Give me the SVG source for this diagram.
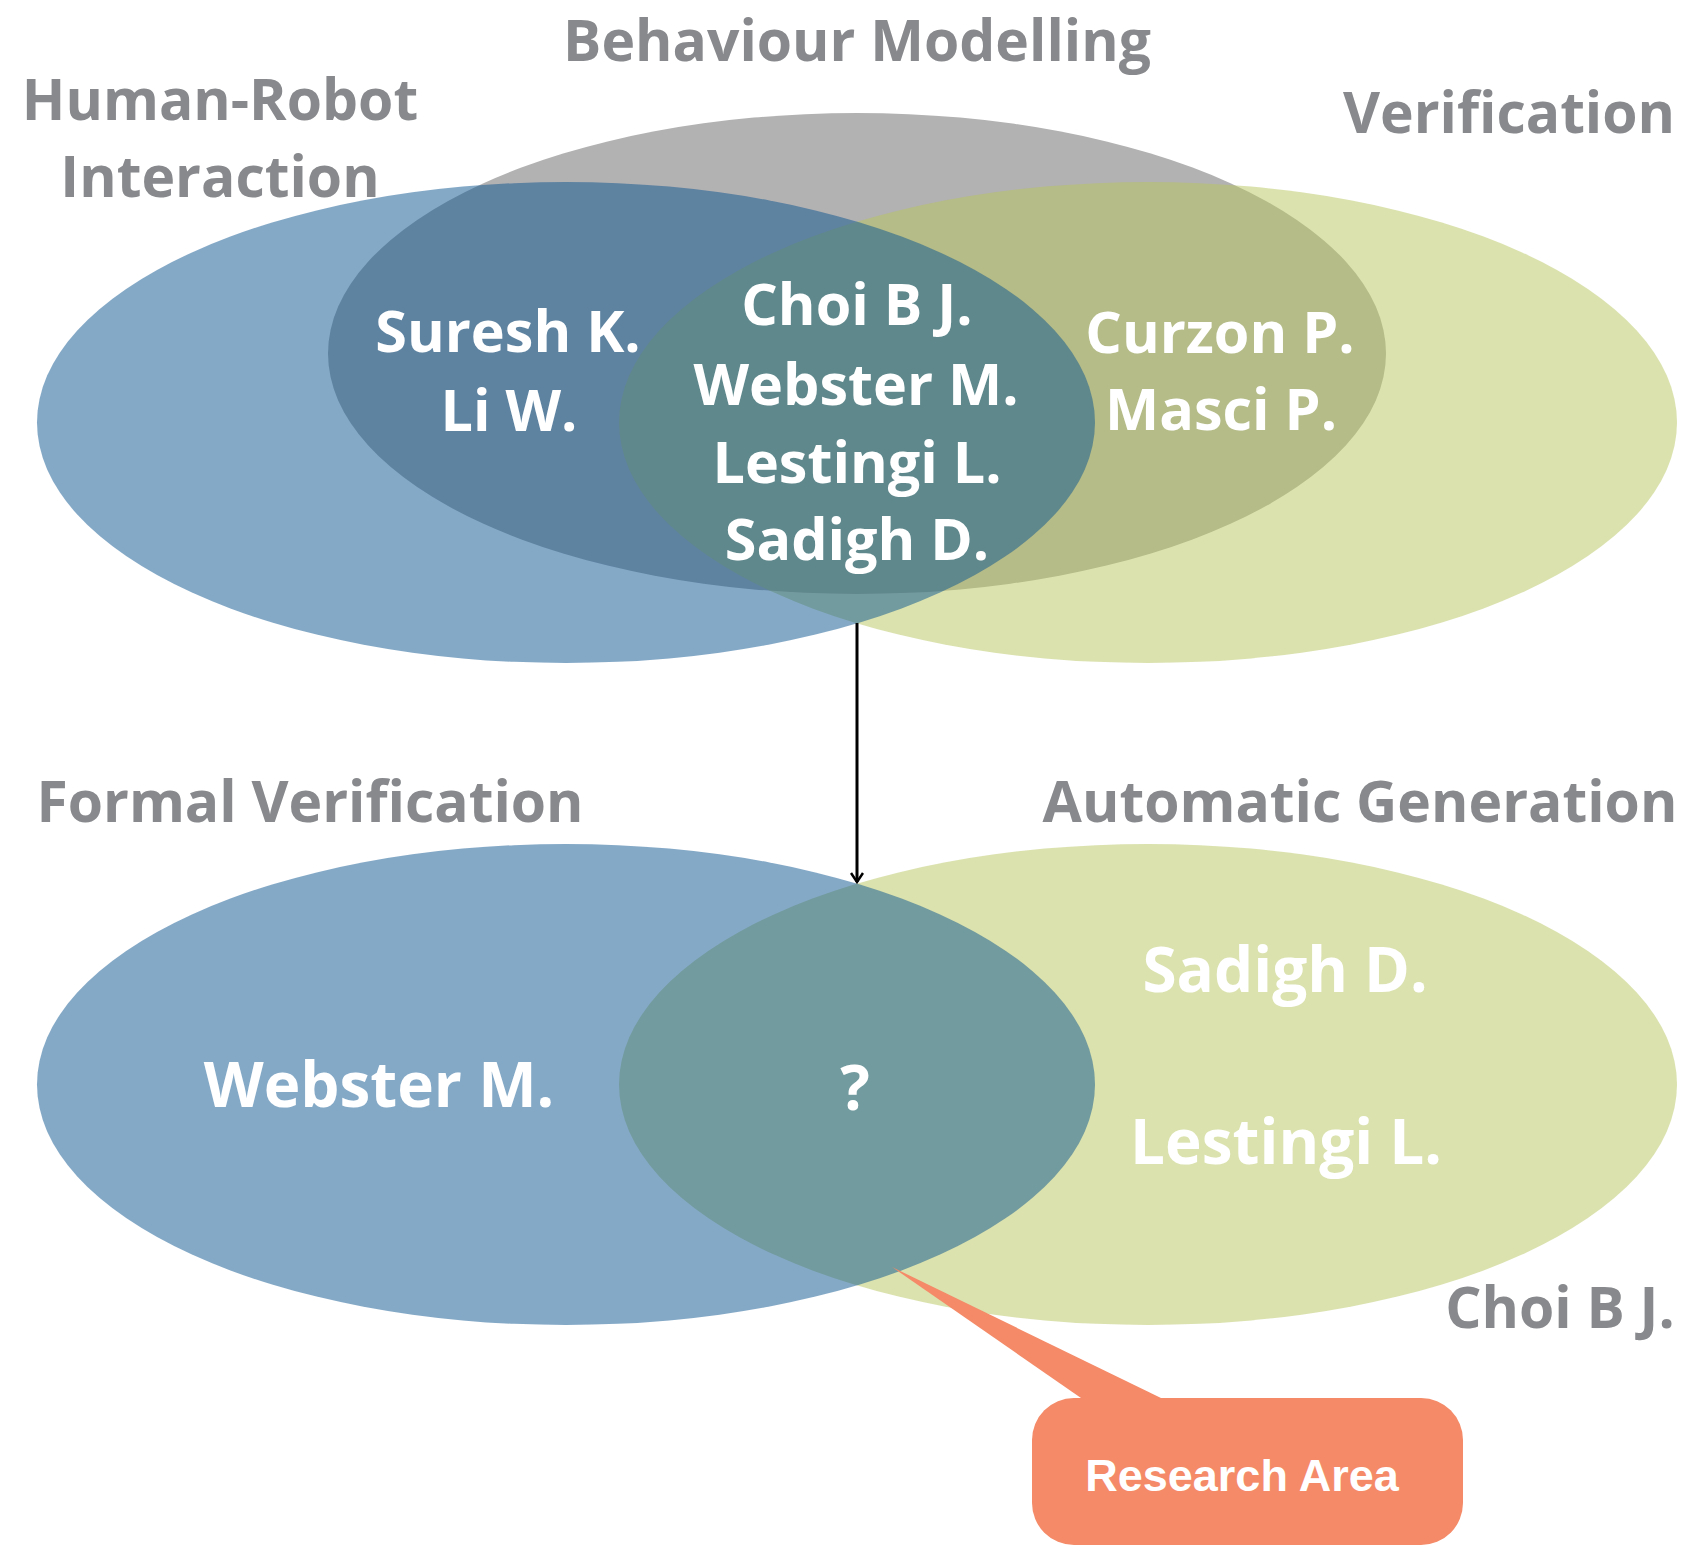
<svg xmlns="http://www.w3.org/2000/svg" width="1682" height="1546" viewBox="0 0 1682 1546">
<defs>
<style>
.gray{fill:#b3b2b3}
.green{fill:#b7c55d;fill-opacity:0.5}
.blue{fill:#09538f;fill-opacity:0.5}
.title{font-family:"Open Sans","DejaVu Sans",sans-serif;font-weight:700;font-size:57px;fill:#87898c;text-anchor:middle}
.name{font-family:"Open Sans","DejaVu Sans",sans-serif;font-weight:700;font-size:57.5px;fill:#ffffff;text-anchor:middle}
.name2{font-family:"Open Sans","DejaVu Sans",sans-serif;font-weight:700;font-size:62px;fill:#ffffff;text-anchor:middle}
.callout{fill:#f48a67}
.ctext{font-family:"Liberation Sans",Arial,sans-serif;font-weight:700;font-size:45px;fill:#ffffff;text-anchor:middle}
</style>
<marker id="arrow" markerWidth="14" markerHeight="14" refX="12" refY="7" orient="auto" markerUnits="userSpaceOnUse" viewBox="0 0 14 14">
<path d="M3,1 L12,7 L3,13" fill="none" stroke="#000" stroke-width="2.5"/>
</marker>
</defs>
<rect width="1682" height="1546" fill="#ffffff"/>

<g id="behaviour-modelling">
<ellipse class="gray" cx="857" cy="353.5" rx="529" ry="240.5"/>
<text class="title" x="857" y="61">Behaviour Modelling</text>
</g>
<g id="verification">
<ellipse class="green" cx="1148" cy="422.5" rx="529" ry="240.5"/>
<text class="title" x="1509" y="133">Verification</text>
</g>
<g id="human-robot-interaction">
<ellipse class="blue" cx="566" cy="422.5" rx="529" ry="240.5"/>
<text class="title" x="220" y="120">Human-Robot</text>
<text class="title" x="220" y="197">Interaction</text>
</g>
<g id="top-names">
<text class="name" x="508" y="352">Suresh K.</text>
<text class="name" x="509" y="431">Li W.</text>
<text class="name" x="857" y="325">Choi B J.</text>
<text class="name" x="856" y="405">Webster M.</text>
<text class="name" x="857" y="483">Lestingi L.</text>
<text class="name" x="857" y="560">Sadigh D.</text>
<text class="name" x="1220" y="353">Curzon P.</text>
<text class="name" x="1221" y="430">Masci P.</text>
</g>

<g id="automatic-generation">
<ellipse class="green" cx="1148" cy="1084.5" rx="529" ry="240.5"/>
<text class="title" x="1360" y="822">Automatic Generation</text>
<text class="name2" x="1285" y="992">Sadigh D.</text>
<text class="name2" x="1286" y="1164">Lestingi L.</text>
<text class="title" x="1560" y="1328">Choi B J.</text>
</g>
<g id="formal-verification">
<ellipse class="blue" cx="566" cy="1084.5" rx="529" ry="240.5"/>
<text class="title" x="310" y="822">Formal Verification</text>
<text class="name2" x="379" y="1107">Webster M.</text>
</g>
<g id="intersection">
<text class="name2" x="855" y="1110">?</text>
</g>

<g id="connectors">
<line x1="857" y1="623" x2="857" y2="882" stroke="#000" stroke-width="3" marker-end="url(#arrow)"/>
</g>

<g id="research-area">
<path class="callout" d="M892,1267 L1161,1398 L1081,1398 Z"/>
<rect class="callout" x="1032" y="1398" width="431" height="147" rx="42" ry="42"/>
<text class="ctext" x="1242" y="1491">Research Area</text>
</g>
</svg>
